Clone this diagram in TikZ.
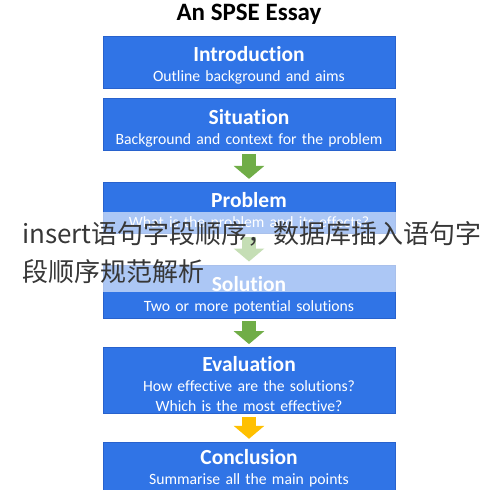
\documentclass[tikz,border=0pt]{standalone}
\usepackage{fontspec}
\setmainfont{Carlito}[Ligatures=NoCommon]
\newfontfamily\cjkfont{Noto Sans CJK SC}
\usetikzlibrary{positioning,arrows.meta}
\definecolor{stageblue}{RGB}{48,116,230}
\definecolor{stageedge}{RGB}{40,98,205}
\definecolor{flowgreen}{RGB}{112,173,71}
\definecolor{flowgold}{RGB}{255,192,0}
\definecolor{markgray}{RGB}{55,55,55}
\newcommand{\stagehead}[1]{{\bfseries\fontsize{21.5}{20}\selectfont\rule{0pt}{22pt}#1}}
\tikzset{
  stage/.style={fill=stageblue, draw=stageedge, line width=0.6pt, text=white, inner sep=2pt,
    text width=288pt, align=center, font=\fontsize{15.7}{20}\selectfont, minimum height=52pt},
  flow/.style={draw=flowgreen, line width=14pt, -{Triangle[length=13pt,width=30pt]},
    shorten <=3pt, shorten >=3pt},
  captiontext/.style={font=\cjkfont\fontsize{26}{30}\selectfont, text=markgray, anchor=base west, inner sep=0pt}
}
\begin{document}
\begin{tikzpicture}[x=1pt,y=-1pt]
  \useasboundingbox (0,0) rectangle (496,490);

  % Title
  \node[font=\bfseries\fontsize{25}{27}\selectfont, anchor=base] (title) at (249,20) {An SPSE Essay};

  % Stages of the essay
  \node[stage] (intro) at (249,62) {\stagehead{Introduction}\\Outline background and aims};
  \node[stage, below=10pt of intro] (situation) {\stagehead{Situation}\\Background and context for the problem};
  \node[stage, below=31pt of situation, minimum height=51pt] (problem) {\stagehead{Problem}\\What is the problem and its effects?};
  \node[stage, below=31pt of problem, minimum height=53pt] (solution) {\stagehead{Solution}\\Two or more potential solutions};
  \node[stage, below=29pt of solution, minimum height=66pt] (evaluation) {\stagehead{Evaluation}\\How effective are the solutions?\\Which is the most effective?};
  \node[stage, below=28pt of evaluation, inner ysep=0pt] (conclusion) {\stagehead{Conclusion}\\Summarise all the main points\rule[-9pt]{0pt}{9pt}};

  % Block arrows
  \draw[flow] (situation) -- (problem);
  \draw[flow] (problem) -- (solution);
  \draw[flow] (solution) -- (evaluation);
  \draw[flow, draw=flowgold] (evaluation) -- (conclusion);

  % Overlaid caption
  \fill[white, fill opacity=0.6] (0,212) rectangle (496,292);
  \node[captiontext] (mark1) at (22,243) {insert语句字段顺序，数据库插入语句字};
  \node[captiontext] (mark2) at (22,281) {段顺序规范解析};
\end{tikzpicture}
\end{document}
